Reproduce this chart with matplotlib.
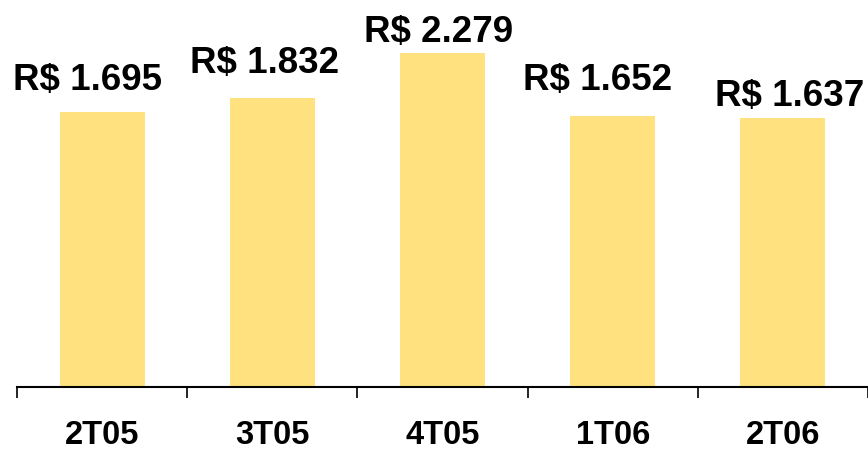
import matplotlib
matplotlib.use("Agg")
import matplotlib.pyplot as plt
import numpy as np

categories = ["2T05", "3T05", "4T05", "1T06", "2T06"]
values = [1695, 1832, 2279, 1652, 1637]
labels = ["R$ 1.695", "R$ 1.832", "R$ 2.279", "R$ 1.652", "R$ 1.637"]

# layout tweaks for the value labels (pixels): x shift, gap above bar
label_dx = [-15, -8, -4, -15, 7]
label_dy = [22, 25, 11, 26, 12]

plt.rcParams['font.family'] = ['Liberation Sans', 'DejaVu Sans']

dpi = 100
fig = plt.figure(figsize=(8.68, 4.5), dpi=dpi)
ax = fig.add_axes([17 / 868, 63 / 450, 851 / 868, 387 / 450])

base = -1022
top = 2798
x = np.arange(len(categories))
vals = np.array(values, dtype=float)
ax.bar(x, vals - base, bottom=base, width=0.5, color="#FFE27F", edgecolor="none")

ax.set_xlim(-0.5, len(categories) - 0.5)
ax.set_ylim(base, top)

for s in ["top", "right", "left"]:
    ax.spines[s].set_visible(False)
ax.spines["bottom"].set_linewidth(1.5)
ax.spines["bottom"].set_color("black")
ax.set_yticks([])

ax.set_xticks(np.arange(-0.5, len(categories) + 0.5, 1.0))
ax.set_xticklabels([])
ax.tick_params(axis="x", which="major", direction="out", length=8, width=1.2, color="black")
ax.set_xticks(x, minor=True)
ax.set_xticklabels(categories, minor=True, fontsize=23.5, fontweight="bold")
ax.tick_params(axis="x", which="minor", length=0, pad=24)

px2pt = 72.0 / dpi
for i, (v, lab) in enumerate(zip(values, labels)):
    ax.annotate(lab, xy=(x[i], v), xytext=(label_dx[i] * px2pt, label_dy[i] * px2pt),
                textcoords="offset points", ha="center", va="baseline",
                fontsize=26.5, fontweight="bold", color="black", annotation_clip=False)

fig.savefig("out.png", dpi=dpi)
